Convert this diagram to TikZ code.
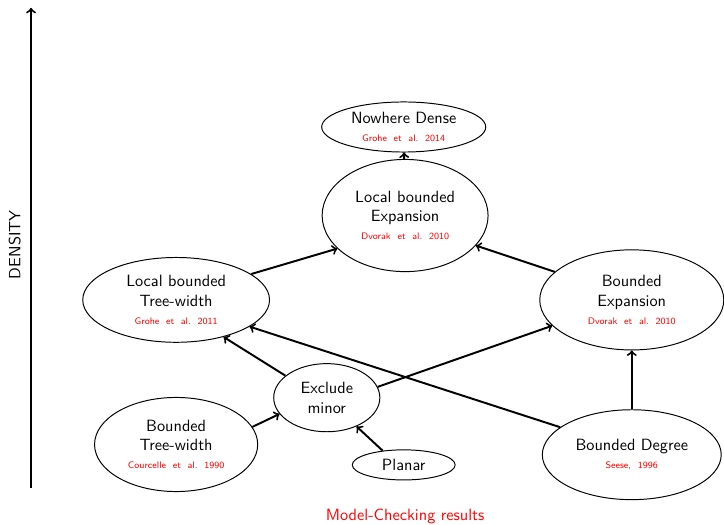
\documentclass[tikz,border=0pt]{standalone}
\usepackage{amsmath}
\usetikzlibrary{shapes.geometric}
\renewcommand{\familydefault}{\sfdefault}

\tikzset{
    classe/.style={draw, ellipse, align=center, inner sep=0pt, semithick}
}
\newcommand{\refcite}[1]{\\[-1pt]{\fontsize{5.8}{6.5}\selectfont\color{red}#1}}

\begin{document}
\begin{tikzpicture}[>=to, very thick]
            \useasboundingbox (0, 0) rectangle (15.62, 11.32);
            % density axis
            \coordinate (low) at (0.67, 0.80);
            \coordinate (high) at (0.67, 11.15);
            \draw[->] (low) -- (high);
            \node[rotate=90] (dens) at (0.32, 6.04) {DENSITY};
            % classes
            \node[classe, minimum width=3.54cm, minimum height=1.08cm] (nd) at (8.71, 8.58) {Nowhere Dense\refcite{Grohe\ \ et\ \ al.\ \ 2014}};
            \node[classe, minimum width=3.58cm, minimum height=2.42cm] (lbe) at (8.74, 6.67) {Local bounded\\Expansion\refcite{Dvorak\ \ et\ \ al.\ \ 2010}};
            \node[classe, minimum width=4.03cm, minimum height=1.83cm] (lbtw) at (3.80, 4.85) {Local bounded\\Tree-width\refcite{Grohe\ \ et\ \ al.\ \ 2011}};
            \node[classe, minimum width=3.97cm, minimum height=2.16cm] (bexp) at (13.63, 4.85) {Bounded\\Expansion\refcite{Dvorak\ \ et\ \ al.\ \ 2010}};
            \node[classe, minimum width=2.29cm, minimum height=1.47cm] (exm) at (7.05, 2.74) {Exclude\\minor};
            \node[classe, minimum width=3.52cm, minimum height=2.03cm] (btw) at (3.80, 1.73) {Bounded\\Tree-width\refcite{Courcelle\ \ et\ \ al.\ \ 1990}};
            \node[classe, minimum width=2.22cm, minimum height=0.65cm] (pla) at (8.71, 1.29) {Planar};
            \node[classe, minimum width=3.86cm, minimum height=1.94cm] (bdeg) at (13.63, 1.51) {Bounded Degree\refcite{Seese,\ \ 1996}};
            \node[text=red] (mc) at (8.74, 0.17) {Model-Checking results};
            % inclusions
            \draw[->] (lbe) -- (nd);
            \draw[->] (lbtw.19) -- (lbe.206);
            \draw[->] (bexp.160) -- (lbe.337);
            \draw[->] (exm.152) -- (lbtw.322);
            \draw[->] (exm.12) -- (bexp.198);
            \draw[->] (bdeg.159) -- (lbtw.340);
            \draw[->] (bdeg) -- (bexp);
            \draw[->] (btw.13) -- (exm.199);
            \draw[->] (pla.146) -- (exm.316);
        \end{tikzpicture}
\end{document}
